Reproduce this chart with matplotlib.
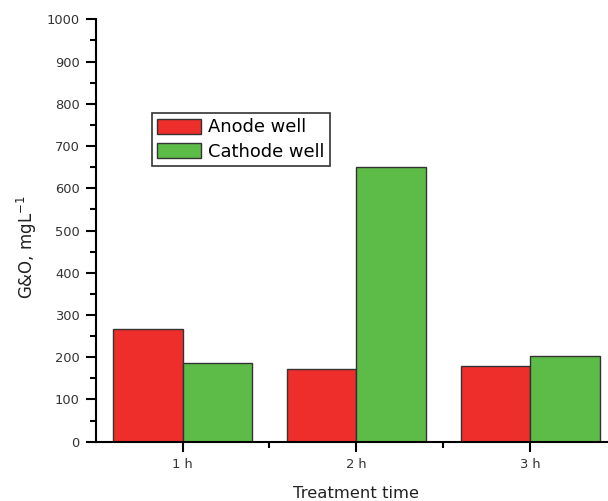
import matplotlib
matplotlib.use("Agg")
import matplotlib.pyplot as plt
import numpy as np
from matplotlib.ticker import MultipleLocator, FixedLocator

plt.rcParams['font.family'] = ['DejaVu Sans']
plt.rcParams['mathtext.fontset'] = 'dejavusans'

categories = ['1 h', '2 h', '3 h']
anode = [267, 173, 179]
cathode = [186, 650, 202]
series_names = ['Anode well', 'Cathode well']
yticks = [0, 100, 200, 300, 400, 500, 600, 700, 800, 900, 1000]

fig = plt.figure(figsize=(6.08, 5.01), dpi=100)
ax = fig.add_axes([95.7/608, 1-441.7/501, (617-95.7)/608, 422.4/501])

x = np.arange(1, len(categories)+1)
w = 0.4
ax.bar(x - w/2, anode, width=w, color='#EE2E2B', edgecolor='#333333', linewidth=1, label=series_names[0])
ax.bar(x + w/2, cathode, width=w, color='#5DBB47', edgecolor='#333333', linewidth=1, label=series_names[1])

ax.set_xlim(0.5, 3.5)
ax.set_ylim(0, 1000)
ax.set_xticks(x)
ax.set_xticklabels(categories)
ax.xaxis.set_minor_locator(FixedLocator([1.5, 2.5]))
ax.set_yticks(yticks)
ax.yaxis.set_minor_locator(MultipleLocator(50))

for s in ['top', 'right']:
    ax.spines[s].set_visible(False)
for s in ['left', 'bottom']:
    ax.spines[s].set_linewidth(1.5)

ax.tick_params(which='major', direction='out', length=7, width=1.5, labelsize=9.4, labelcolor='#333333', pad=4.5)
ax.tick_params(which='minor', direction='out', length=4, width=1.5)

ax.set_xlabel('Treatment time', fontsize=11.8, color='#222222', labelpad=11)
ax.set_ylabel('G&O, mgL$^{-1}$', fontsize=12, color='#222222')
ax.yaxis.label.set_va('center')
ax.yaxis.set_label_coords((27-95.7)/521.3, (441.7-247)/422.4)

leg = ax.legend(loc='upper left', bbox_to_anchor=((151.7-95.7)/(617-95.7), 1-(112.7-19.3)/422.4),
                fontsize=12.9, frameon=True, fancybox=False, edgecolor='black',
                handlelength=2.45, handleheight=0.95, labelspacing=0.35,
                handletextpad=0.35, borderpad=0.32, borderaxespad=0)
leg.get_frame().set_linewidth(1.2)

fig.savefig('out.png', dpi=100)
